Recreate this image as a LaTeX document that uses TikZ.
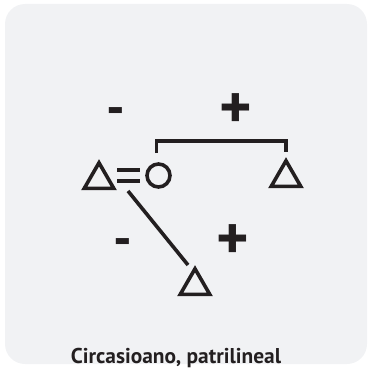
\documentclass[tikz,border=0pt]{standalone}
\usepackage{fontspec}
\setmainfont{PT Sans}
\usetikzlibrary{shapes.geometric}
\definecolor{bg}{HTML}{F1F2F4}
\definecolor{ink}{HTML}{231F20}
\begin{document}
\begin{tikzpicture}[x=1pt,y=-1pt,
  tri/.style={regular polygon, regular polygon sides=3, draw=ink, line width=3.6pt,
    minimum size=34pt, inner sep=0pt, outer sep=0pt, line join=miter},
  fem/.style={circle, draw=ink, line width=3.6pt, minimum size=23pt, inner sep=0pt},
  plus/.style={font=\bfseries\fontsize{62}{62}\selectfont, text=ink, inner sep=0pt},
  minus/.style={font=\bfseries\fontsize{52}{52}\selectfont, text=ink, inner sep=0pt},
  link/.style={draw=ink, line width=3.6pt, line join=miter},
  caption/.style={font=\bfseries\fontsize{21.4}{22}\selectfont, text=ink, inner sep=0pt}]
\useasboundingbox (0,0) rectangle (367,369);
\fill[bg, rounded corners=20pt] (5,4) rectangle (367,364);
% people
\node[tri] (h) at (99,179.8) {};
\node[fem] (w) at (158.5,175.5) {};
\node[tri] (b) at (286,177.8) {};
\node[tri] (c) at (195,285.8) {};
% marriage
\coordinate (e1a) at (117,170); \coordinate (e1b) at (140,170);
\coordinate (e2a) at (117,181); \coordinate (e2b) at (140,181);
\draw[link] (e1a) -- (e1b);
\draw[link] (e2a) -- (e2b);
% sibling bracket
\coordinate (s1) at (156.5,153); \coordinate (s2) at (286,152);
\draw[link] (s1) -- (156.5,141) -- (286,141) -- (s2);
% descent
\coordinate (d1) at (128,191); \coordinate (d2) at (188,265);
\draw[link] (d1) -- (d2);
% signs
\node[minus, anchor=base] (m1) at (116,125) {-};
\node[plus, anchor=base] (p1) at (236,128) {+};
\node[minus, anchor=base] (m2) at (123,256) {-};
\node[plus, anchor=base] (p2) at (233,259) {+};
% caption
\node[caption, anchor=base] (cap) at (176,363) {Circasioano, patrilineal};
\end{tikzpicture}
\end{document}
